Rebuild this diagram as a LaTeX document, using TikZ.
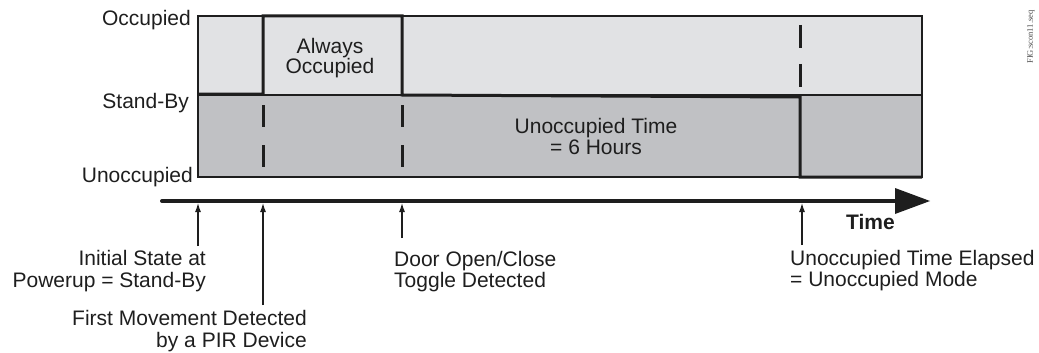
\documentclass[tikz,border=0pt]{standalone}
\usepackage{fontspec}
\setmainfont{Liberation Sans}
\newfontfamily\figfont{Liberation Serif}
\usetikzlibrary{arrows.meta}
\definecolor{upperfill}{HTML}{E1E2E4}
\definecolor{lowerfill}{HTML}{C0C1C4}
\definecolor{ink}{HTML}{1E1E1E}
\begin{document}
\begin{tikzpicture}[x=1pt,y=-1pt,
  lbl/.style={font=\fontsize{21}{21}\selectfont, inner sep=0pt, text=ink},
  boldlbl/.style={lbl, font=\fontsize{21}{21}\selectfont\bfseries},
  border/.style={draw=ink, line width=1.4pt},
  stateline/.style={draw=ink, line width=3pt, line join=miter},
  dashseg/.style={draw=ink, line width=3pt},
  timeline/.style={draw=ink, line width=4pt, line cap=round},
  pointer/.style={draw=ink, line width=1.2pt, -{Latex[length=9pt,width=6pt]}}]
\useasboundingbox (0,0) rectangle (1039,353);
% bands
\fill[upperfill] (198,16) rectangle (922,95);
\fill[lowerfill] (198,95) rectangle (922,177);
\draw[border] (198,16) rectangle (922,177);
\draw[border] (198,95) -- (922,95);
% state line
\draw[stateline] (198,94) -- (263,94) -- (263,16) -- (402,16) -- (402,95) -- (800,97) -- (800,177) -- (922,177);
% dashed markers
\draw[dashseg] (263,105) -- (263,127);
\draw[dashseg] (263,145) -- (263,167);
\draw[dashseg] (402,105) -- (402,127);
\draw[dashseg] (402,145) -- (402,167);
\draw[dashseg] (800,25) -- (800,48);
\draw[dashseg] (800,64) -- (800,87);
% level labels
\node[lbl, anchor=base east] (occ) at (191,26) {Occupied};
\node[lbl, anchor=base east] (sby) at (189,108) {Stand-By};
\node[lbl, anchor=base east] (unocc) at (193,182) {Unoccupied};
% band texts
\node[lbl, anchor=base] (ao1) at (330,54) {Always};
\node[lbl, anchor=base] (ao2) at (330,74) {Occupied};
\node[lbl, anchor=base] (ut1) at (596,133) {Unoccupied Time};
\node[lbl, anchor=base] (ut2) at (596,154) {= 6 Hours};
% time axis
\coordinate (tstart) at (162,201);
\coordinate (tend) at (896,201);
\draw[timeline] (tstart) -- (tend);
\fill[ink] (895,188) -- (930,201) -- (895,214) -- cycle;
\node[boldlbl, anchor=base west] (time) at (846,229) {Time};
% event markers on axis
\coordinate (e1) at (198,203);
\coordinate (e2) at (263,203);
\coordinate (e3) at (402,203);
\coordinate (e4) at (802,203);
% event labels
\node[lbl, anchor=base east] (i1) at (206,265) {Initial State at};
\node[lbl, anchor=base east] (i2) at (206,287) {Powerup = Stand-By};
\node[lbl, anchor=base east] (f1) at (307,325) {First Movement Detected};
\node[lbl, anchor=base east] (f2) at (307,347) {by a PIR Device};
\node[lbl, anchor=base west] (d1) at (394,266) {Door Open/Close};
\node[lbl, anchor=base west] (d2) at (394,287) {Toggle Detected};
\node[lbl, anchor=base west] (u1) at (790,265) {Unoccupied Time Elapsed};
\node[lbl, anchor=base west] (u2) at (790,286) {= Unoccupied Mode};
% pointers
\coordinate (p1) at (198,246);
\coordinate (p2) at (263,305);
\coordinate (p3) at (402,238);
\coordinate (p4) at (802,245);
\draw[pointer] (p1) -- (e1);
\draw[pointer] (p2) -- (e2);
\draw[pointer] (p3) -- (e3);
\draw[pointer] (p4) -- (e4);
% figure tag
\node[inner sep=0pt, rotate=90, font=\figfont\fontsize{8.5}{9}\selectfont, text=ink!80] (tag) at (1031,37) {FIG:scon11.seq};
\end{tikzpicture}
\end{document}
